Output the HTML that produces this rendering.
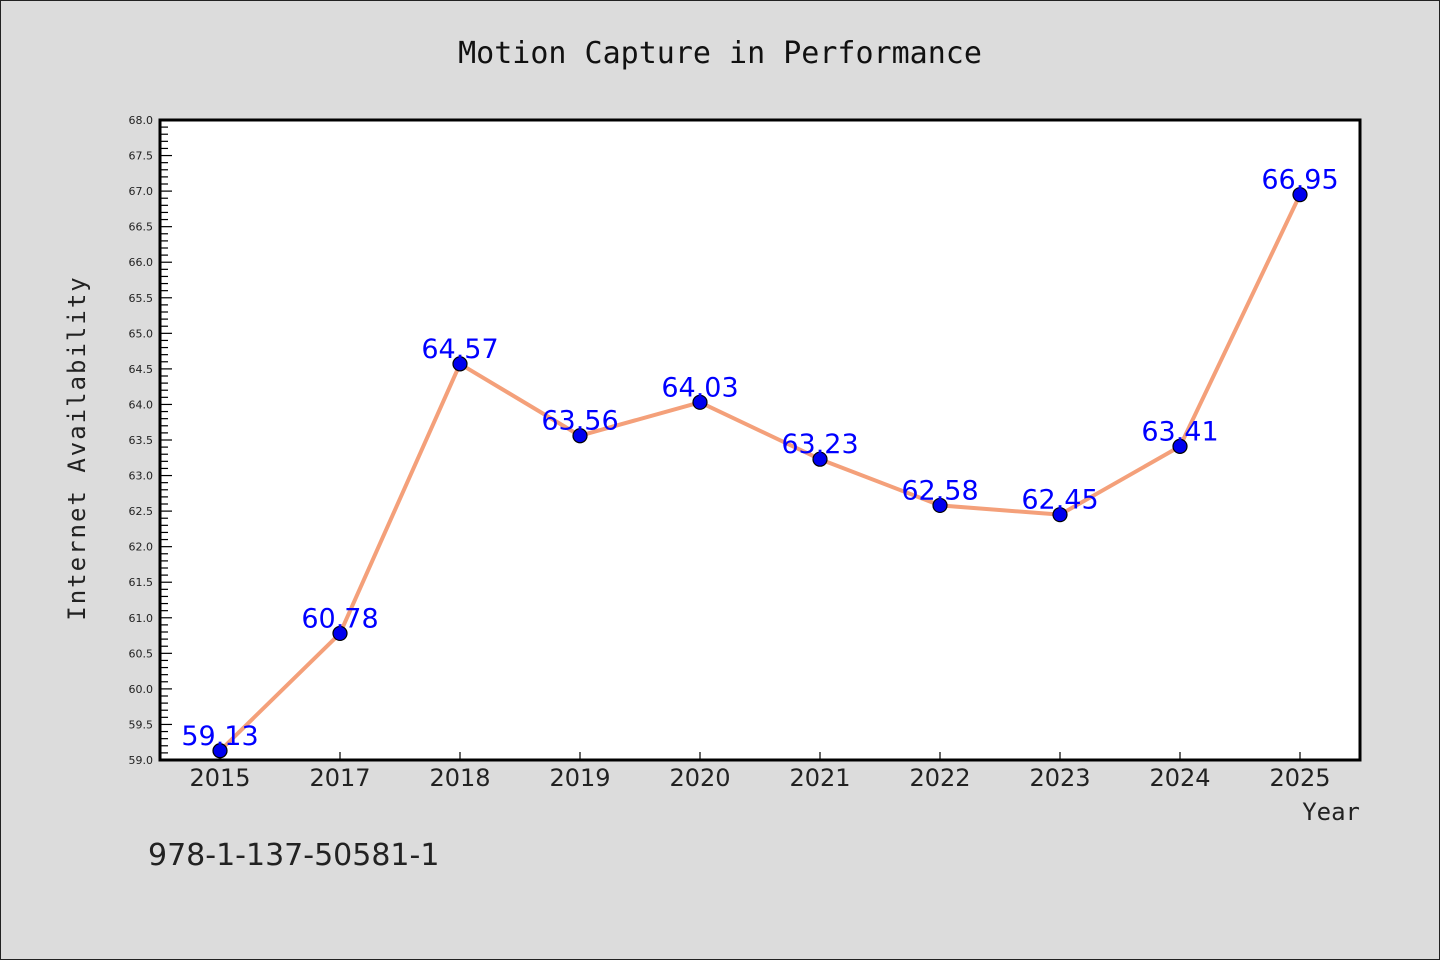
<!DOCTYPE html>
<html><head><meta charset="utf-8"><style>
html,body{margin:0;padding:0;background:#dcdcdc;overflow:hidden;}
svg{display:block;}
svg text{font-family:"DejaVu Sans","Liberation Sans",sans-serif;}
</style></head><body>
<svg width="1440" height="960" xmlns="http://www.w3.org/2000/svg" id="svg">
<rect x="0.5" y="0.5" width="1439" height="959" fill="#dcdcdc" stroke="#222"/>
<text x="720" y="63" font-size="30" text-anchor="middle" fill="#111" style="font-family:'DejaVu Sans Mono','Liberation Mono',monospace">Motion Capture in Performance</text>
<rect x="160" y="120" width="1200" height="640" fill="#fff"/>
<g id="ticks"></g>
<g id="series"></g>
<rect x="160" y="120" width="1200" height="640" fill="none" stroke="#000" stroke-width="3"/>
<text transform="translate(85,448) rotate(-90)" font-size="24" text-anchor="middle" fill="#222" style="font-family:'DejaVu Sans Mono','Liberation Mono',monospace;letter-spacing:2px">Internet Availability</text>
<text x="1360" y="820" font-size="24" text-anchor="end" fill="#222" style="font-family:'DejaVu Sans Mono','Liberation Mono',monospace">Year</text>
<text x="148" y="865" font-size="30" fill="#222">978-1-137-50581-1</text>
</svg>
<script>
const categories=["2015","2017","2018","2019","2020","2021","2022","2023","2024","2025"];
const values=[59.13,60.78,64.57,63.56,64.03,63.23,62.58,62.45,63.41,66.95];
const yTicks=[59.0,59.5,60.0,60.5,61.0,61.5,62.0,62.5,63.0,63.5,64.0,64.5,65.0,65.5,66.0,66.5,67.0,67.5,68.0];
{
const NS="http://www.w3.org/2000/svg";
const yMin=59,yMax=68,plotTop=120,plotBot=760;
const yS=v=>plotBot-(v-yMin)/(yMax-yMin)*(plotBot-plotTop);
const xS=i=>220+i*120;
function mk(t,a,p){const e=document.createElementNS(NS,t);for(const k in a)e.setAttribute(k,a[k]);p.appendChild(e);return e;}
const tg=document.getElementById('ticks'),sg=document.getElementById('series');
for(let k=0;k<=90;k++){const v=yMin+k*0.1;const major=k%5===0;
 const l=mk('line',{x1:160,x2:160+(major?12:8),y1:yS(v),y2:yS(v),stroke:'#000','stroke-width':1.2},tg);
 
 }
yTicks.forEach(v=>{const t=mk('text',{x:153,y:yS(v)+4,'font-size':11,'text-anchor':'end',fill:'#222'},tg);t.textContent=v.toFixed(1);
 
 });
categories.forEach((c,i)=>{const l=mk('line',{x1:xS(i),x2:xS(i),y1:760,y2:752,stroke:'#000','stroke-width':1.2},tg);
 
 
 const t=mk('text',{x:xS(i),y:786,'font-size':24,'text-anchor':'middle',fill:'#222'},tg);t.textContent=c;
 
 });
const pl=mk('polyline',{points:values.map((v,i)=>xS(i)+','+yS(v)).join(' '),fill:'none',stroke:'#f4a07a','stroke-width':4,'stroke-linejoin':'round'},sg);


values.forEach((v,i)=>{const c=mk('circle',{cx:xS(i),cy:yS(v),r:7,fill:'#0000ee',stroke:'#000','stroke-width':1.2},sg);
 
 
 const t=mk('text',{x:xS(i),y:yS(v)-6,'font-size':27,'text-anchor':'middle',fill:'#0000ff'},sg);t.textContent=v.toFixed(2);
 
 });
}
</script>
</body></html>
